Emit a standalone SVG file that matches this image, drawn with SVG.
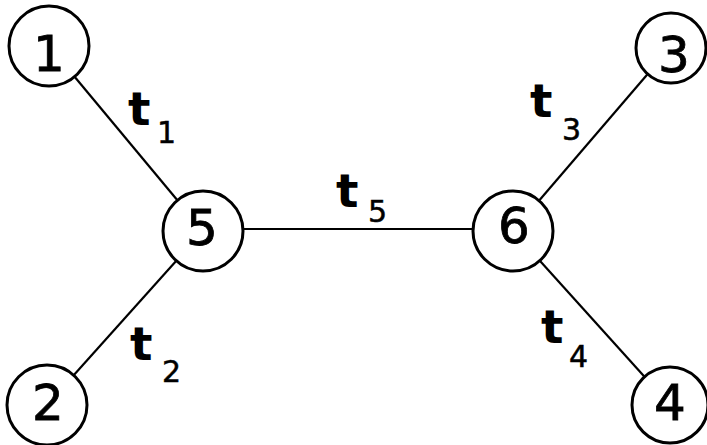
<svg xmlns="http://www.w3.org/2000/svg" width="707" height="445" viewBox="0 0 707 445">
<style>
.n{fill:#fff;stroke:#000;stroke-width:3}
.e{stroke:#000;stroke-width:2.2;fill:none}
.d{font-family:"DejaVu Sans",sans-serif;font-size:50px;text-anchor:middle;fill:#000;stroke:#000;stroke-width:0.8}
.t{font-family:"DejaVu Sans",sans-serif;font-size:47px;font-weight:bold;fill:#000}
.s{font-family:"DejaVu Sans",sans-serif;font-size:30px;fill:#000;stroke:#000;stroke-width:0.5}
</style>
<rect width="707" height="445" fill="#fff"/>
<g id="edges">
<line class="e" x1="49" y1="46" x2="203" y2="231"/>
<line class="e" x1="47" y1="405" x2="203" y2="231"/>
<line class="e" x1="203" y1="229" x2="513" y2="229"/>
<line class="e" x1="513" y1="231" x2="670" y2="48"/>
<line class="e" x1="513" y1="231" x2="670" y2="405"/>
</g>
<g id="n1"><circle class="n" cx="49" cy="46" r="40"/><text class="d" x="49" y="71">1</text></g>
<g id="n2"><circle class="n" cx="47" cy="405" r="40"/><text class="d" x="48" y="420">2</text></g>
<g id="n3"><circle class="n" cx="671" cy="48" r="35"/><text class="d" x="674" y="72">3</text></g>
<g id="n4"><circle class="n" cx="670" cy="405" r="38"/><text class="d" x="670" y="420">4</text></g>
<g id="n5"><circle class="n" cx="203" cy="231" r="40"/><text class="d" x="202" y="245">5</text></g>
<g id="n6"><circle class="n" cx="513" cy="231" r="40"/><text class="d" x="514" y="243">6</text></g>
<g id="labels">
<text class="t" x="128" y="125">t</text><text class="s" x="157" y="143">1</text>
<text class="t" x="130" y="360">t</text><text class="s" x="162" y="382">2</text>
<text class="t" x="530" y="117">t</text><text class="s" x="562" y="140">3</text>
<text class="t" x="541" y="343">t</text><text class="s" x="569" y="367">4</text>
<text class="t" x="336" y="207">t</text><text class="s" x="368" y="222">5</text>
</g>
</svg>
